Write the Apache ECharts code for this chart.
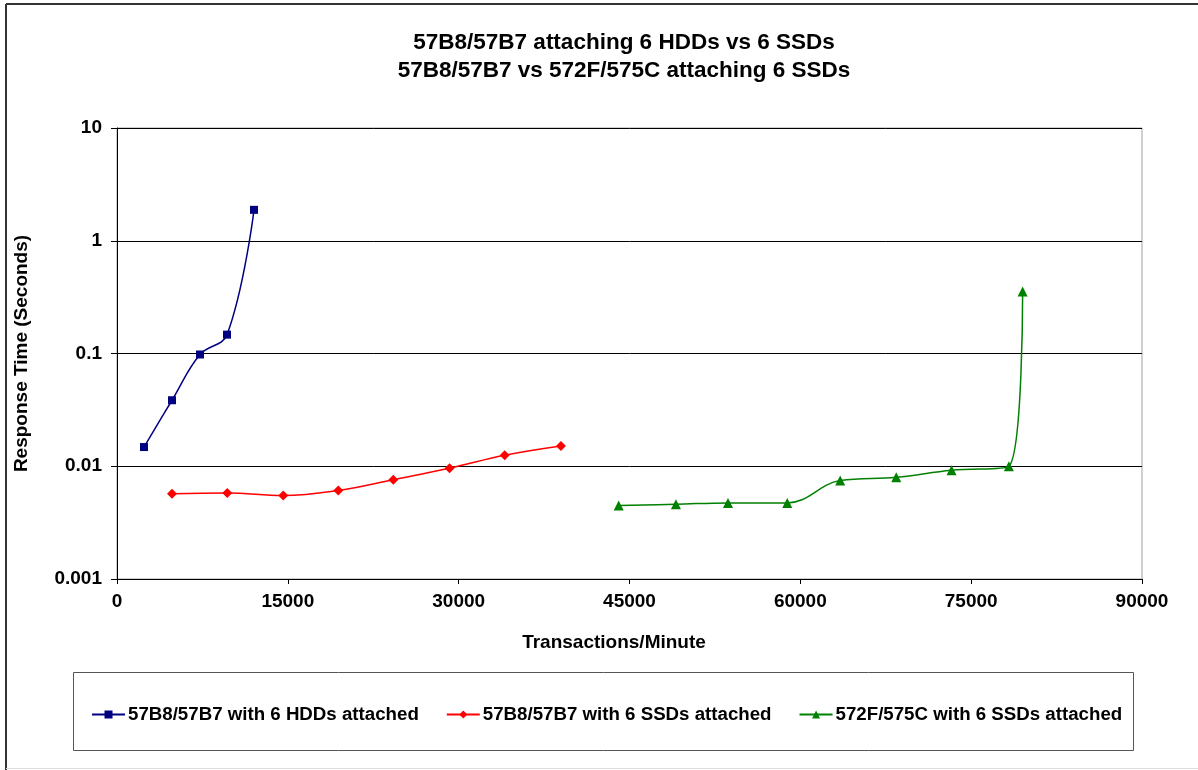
<!DOCTYPE html>
<html>
<head>
<meta charset="utf-8">
<script src="https://cdn.jsdelivr.net/npm/echarts@6/dist/echarts.min.js"></script>
<style>
html,body{margin:0;padding:0;background:#fff;}
#chart{width:1198px;height:770px;}
</style>
</head>
<body>
<div id="chart"></div>
<script>
const titleLines = ['57B8/57B7 attaching 6 HDDs vs 6 SSDs', '57B8/57B7 vs 572F/575C attaching 6 SSDs'];
const xAxisName = 'Transactions/Minute';
const yAxisName = 'Response Time (Seconds)';
const yTickLabels = ['0.001', '0.01', '0.1', '1', '10'];
const seriesNames = ['57B8/57B7 with 6 HDDs attached', '57B8/57B7 with 6 SSDs attached', '572F/575C with 6 SSDs attached'];

const hddX = [2370, 4830, 7290, 9660, 12030];
const hddY = [0.0148, 0.0385, 0.098, 0.147, 1.88];

const ssdX = [4830, 9680, 14600, 19430, 24260, 29200, 34040, 38980];
const ssdY = [0.0057, 0.0058, 0.0055, 0.0061, 0.0076, 0.0096, 0.0125, 0.0151];

const newX = [44050, 49080, 53650, 58850, 63500, 68420, 73280, 78310, 79520];
const newY = [0.00448, 0.0046, 0.00473, 0.00473, 0.00746, 0.00798, 0.0092, 0.0100, 0.355];

const pair = (xs, ys) => xs.map((x, i) => [x, ys[i]]);

const FONT = '"Liberation Sans", Arial, sans-serif';
const chart = echarts.init(document.getElementById('chart'), null, {renderer: 'canvas'});

chart.setOption({
  animation: false,
  backgroundColor: '#fff',
  title: {
    text: titleLines.join('\n'),
    left: 619,
    top: 24,
    textAlign: 'center',
    textStyle: {fontFamily: FONT, fontWeight: 'bold', fontSize: 22.5, lineHeight: 28, color: '#000'}
  },
  grid: {
    left: 117, right: 56, top: 128, bottom: 191,
    show: true, borderColor: '#a0a0a0', borderWidth: 1, backgroundColor: 'transparent'
  },
  legend: {
    left: 86,
    top: 700,
    itemGap: 27,
    itemWidth: 33,
    itemHeight: 10,
    textStyle: {fontFamily: FONT, fontWeight: 'bold', fontSize: 18.7, color: '#000', padding: [0, 0, 0, -2]},
    data: seriesNames
  },
  xAxis: {
    type: 'value',
    min: 0, max: 90000, interval: 15000,
    name: xAxisName,
    nameLocation: 'middle',
    nameGap: 54,
    nameTextStyle: {fontFamily: FONT, fontWeight: 'bold', fontSize: 19, color: '#000', padding: [0, 31, 0, 0]},
    axisLine: {show: true, onZero: false, lineStyle: {color: '#000', width: 1}},
    axisTick: {show: true, inside: false, length: 5, lineStyle: {color: '#000'}},
    axisLabel: {fontFamily: FONT, fontWeight: 'bold', fontSize: 19, color: '#000', margin: 13,
      formatter: v => String(Math.round(v))},
    splitLine: {show: false}
  },
  yAxis: {
    type: 'log',
    logBase: 10,
    min: 0.001, max: 10,
    name: yAxisName,
    nameLocation: 'middle',
    nameGap: 86,
    nameRotate: 90,
    nameTextStyle: {fontFamily: FONT, fontWeight: 'bold', fontSize: 19, color: '#000'},
    axisLine: {show: true, lineStyle: {color: '#000', width: 1}},
    axisTick: {show: true, inside: false, length: 6, lineStyle: {color: '#000'}},
    axisLabel: {
      fontFamily: FONT, fontWeight: 'bold', fontSize: 19, color: '#000', margin: 15,
      formatter: v => yTickLabels[Math.round(Math.log10(v)) + 3]
    },
    splitLine: {show: true, lineStyle: {color: '#000', width: 1}},
    minorTick: {show: false}
  },
  series: [
    {
      name: seriesNames[0], type: 'line', smooth: 0.4,
      data: pair(hddX, hddY),
      symbol: 'rect', symbolSize: 8,
      itemStyle: {color: '#000080'},
      lineStyle: {color: '#000080', width: 1.5}
    },
    {
      name: seriesNames[1], type: 'line', smooth: 0.4,
      data: pair(ssdX, ssdY),
      symbol: 'diamond', symbolSize: 10,
      itemStyle: {color: '#ff0000'},
      lineStyle: {color: '#ff0000', width: 1.5}
    },
    {
      name: seriesNames[2], type: 'line', smooth: 0.4,
      data: pair(newX, newY),
      symbol: 'triangle', symbolSize: 10,
      itemStyle: {color: '#008000'},
      lineStyle: {color: '#008000', width: 1.5}
    }
  ],
  graphic: [
    {type: 'line', shape: {x1: 6, y1: 4, x2: 1198, y2: 4}, style: {stroke: '#333', lineWidth: 2}, silent: true},
    {type: 'line', shape: {x1: 6, y1: 4, x2: 6, y2: 770}, style: {stroke: '#333', lineWidth: 2}, silent: true},
    {type: 'line', shape: {x1: 6, y1: 768.5, x2: 1198, y2: 768.5}, style: {stroke: '#ddd', lineWidth: 1}, silent: true},
    {type: 'rect', shape: {x: 73.5, y: 672.5, width: 1060, height: 78}, style: {fill: 'none', stroke: '#555', lineWidth: 1}, silent: true, z: -1}
  ]
});
</script>
</body>
</html>
